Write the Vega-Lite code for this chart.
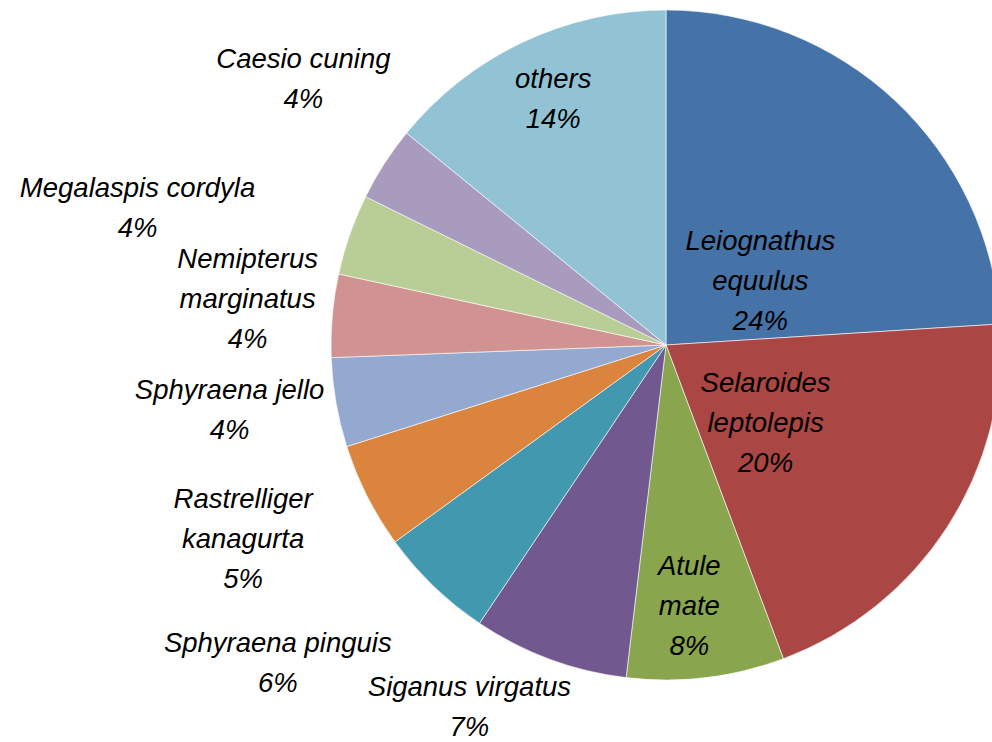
{
  "$schema": "https://vega.github.io/schema/vega-lite/v6.json",
  "width": 652,
  "height": 670,
  "autosize": {"type": "none"},
  "padding": {"left": 340, "top": 10, "right": 0, "bottom": 62},
  "background": "white",
  "config": {"view": {"stroke": null}, "text": {"font": "Liberation Sans", "fontStyle": "italic", "fontSize": 27.5, "lineHeight": 40, "lineBreak": "\n", "fill": "black", "align": "center", "baseline": "middle"}},
  "data": {
    "values": [
      {"order": 1, "species": "Leiognathus equulus", "value": 24.0, "label": "Leiognathus\nequulus\n24%"},
      {"order": 2, "species": "Selaroides leptolepis", "value": 20.3, "label": "Selaroides\nleptolepis\n20%"},
      {"order": 3, "species": "Atule mate", "value": 7.6, "label": "Atule\nmate\n8%"},
      {"order": 4, "species": "Siganus virgatus", "value": 7.5, "label": "Siganus virgatus\n7%"},
      {"order": 5, "species": "Sphyraena pinguis", "value": 5.6, "label": "Sphyraena pinguis\n6%"},
      {"order": 6, "species": "Rastrelliger kanagurta", "value": 5.1, "label": "Rastrelliger\nkanagurta\n5%"},
      {"order": 7, "species": "Sphyraena jello", "value": 4.3, "label": "Sphyraena jello\n4%"},
      {"order": 8, "species": "Nemipterus marginatus", "value": 4.0, "label": "Nemipterus\nmarginatus\n4%"},
      {"order": 9, "species": "Megalaspis cordyla", "value": 3.9, "label": "Megalaspis cordyla\n4%"},
      {"order": 10, "species": "Caesio cuning", "value": 3.6, "label": "Caesio cuning\n4%"},
      {"order": 11, "species": "others", "value": 14.1, "label": "others\n14%"}
    ]
  },
  "encoding": {
    "theta": {"field": "value", "type": "quantitative", "stack": true},
    "order": {"field": "order", "type": "quantitative"},
    "detail": {"field": "species", "type": "nominal"}
  },
  "layer": [
    {
      "mark": {"type": "arc", "outerRadius": 335, "stroke": "#ffffff", "strokeWidth": 0.6},
      "encoding": {
        "color": {
          "field": "species",
          "type": "nominal",
          "legend": null,
          "scale": {
            "domain": ["Leiognathus equulus", "Selaroides leptolepis", "Atule mate", "Siganus virgatus", "Sphyraena pinguis", "Rastrelliger kanagurta", "Sphyraena jello", "Nemipterus marginatus", "Megalaspis cordyla", "Caesio cuning", "others"],
            "range": ["#4572A7", "#AA4644", "#89A54E", "#71588F", "#4198AF", "#DB843D", "#93A9CF", "#D19392", "#B9CD96", "#A99BBD", "#92C3D4"]
          }
        }
      }
    },
    {"mark": {"type": "text", "radius": 113, "dx": 17, "dy": -21},
     "encoding": {"text": {"condition": {"test": "datum.species === 'Leiognathus equulus'", "field": "label", "type": "nominal"}, "value": ""}}},
    {"mark": {"type": "text", "radius": 127, "dx": -7, "dy": -30},
     "encoding": {"text": {"condition": {"test": "datum.species === 'Selaroides leptolepis'", "field": "label", "type": "nominal"}, "value": ""}}},
    {"mark": {"type": "text", "radius": 263, "dx": -8, "dy": -39},
     "encoding": {"text": {"condition": {"test": "datum.species === 'Atule mate'", "field": "label", "type": "nominal"}, "value": ""}}},
    {"mark": {"type": "text", "radius": 413, "dx": -53, "dy": -44},
     "encoding": {"text": {"condition": {"test": "datum.species === 'Siganus virgatus'", "field": "label", "type": "nominal"}, "value": ""}}},
    {"mark": {"type": "text", "radius": 502, "dx": -40, "dy": -63},
     "encoding": {"text": {"condition": {"test": "datum.species === 'Sphyraena pinguis'", "field": "label", "type": "nominal"}, "value": ""}}},
    {"mark": {"type": "text", "radius": 466, "dx": -7, "dy": -55},
     "encoding": {"text": {"condition": {"test": "datum.species === 'Rastrelliger kanagurta'", "field": "label", "type": "nominal"}, "value": ""}}},
    {"mark": {"type": "text", "radius": 441, "dx": -2, "dy": -30},
     "encoding": {"text": {"condition": {"test": "datum.species === 'Sphyraena jello'", "field": "label", "type": "nominal"}, "value": ""}}},
    {"mark": {"type": "text", "radius": 421, "dx": 1, "dy": -48},
     "encoding": {"text": {"condition": {"test": "datum.species === 'Nemipterus marginatus'", "field": "label", "type": "nominal"}, "value": ""}}},
    {"mark": {"type": "text", "radius": 546, "dx": -13, "dy": 24},
     "encoding": {"text": {"condition": {"test": "datum.species === 'Megalaspis cordyla'", "field": "label", "type": "nominal"}, "value": ""}}},
    {"mark": {"type": "text", "radius": 449, "dx": 15, "dy": -42},
     "encoding": {"text": {"condition": {"test": "datum.species === 'Caesio cuning'", "field": "label", "type": "nominal"}, "value": ""}}},
    {"mark": {"type": "text", "radius": 270, "dx": 3, "dy": -21},
     "encoding": {"text": {"condition": {"test": "datum.species === 'others'", "field": "label", "type": "nominal"}, "value": ""}}}
  ]
}
